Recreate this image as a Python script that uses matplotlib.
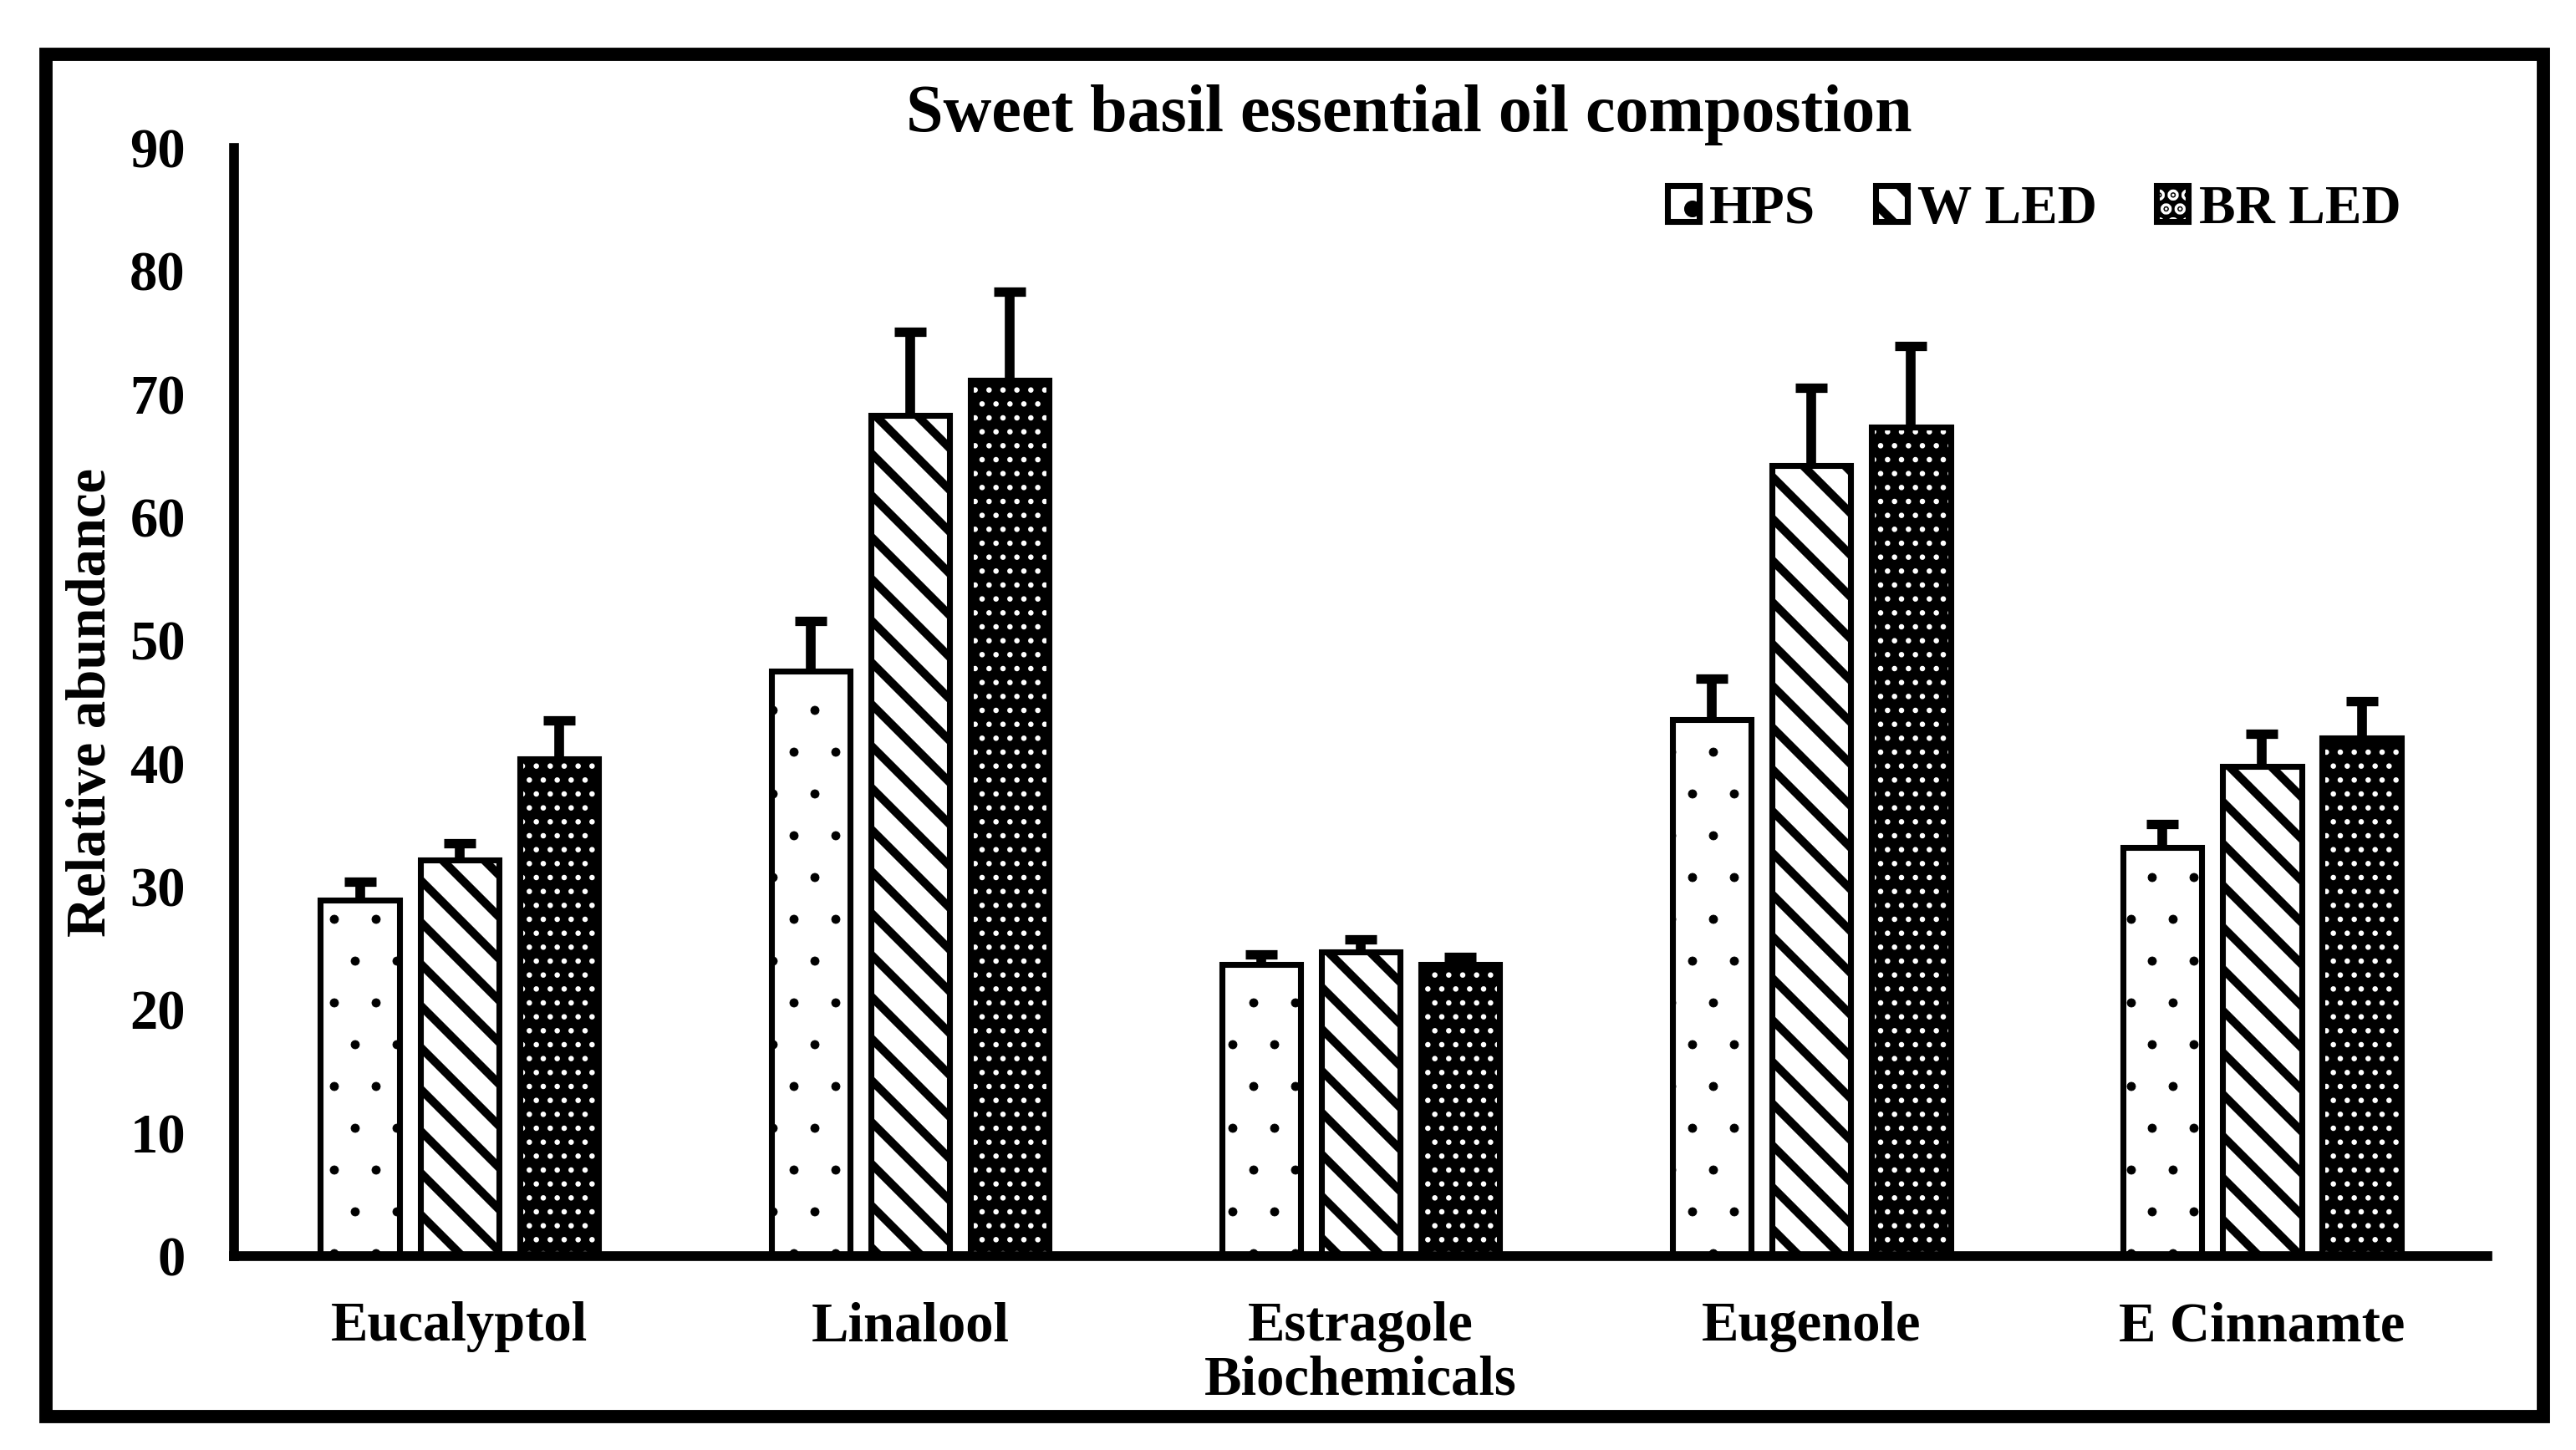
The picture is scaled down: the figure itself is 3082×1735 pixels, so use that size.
import numpy as np
import matplotlib
matplotlib.use('Agg')
import matplotlib.pyplot as plt
from matplotlib.patches import Rectangle

plt.rcParams['font.family'] = ['Liberation Serif', 'DejaVu Serif']
plt.rcParams['font.weight'] = 'bold'
plt.rcParams['hatch.linewidth'] = 2.4

# data
categories = ['Eucalyptol', 'Linalool', 'Estragole', 'Eugenole', 'E Cinnamte']
series_names = ['HPS', 'W LED', 'BR LED']
hps = [28.9, 47.5, 23.7, 43.6, 33.2]
hps_err = [1.5, 4.1, 0.8, 3.3, 1.9]
wled = [32.2, 68.3, 24.7, 64.2, 39.8]
wled_err = [1.3, 6.8, 1.0, 6.3, 2.6]
brled = [40.4, 71.1, 23.7, 67.3, 42.1]
brled_err = [3.1, 7.2, 0.6, 6.6, 3.0]

values = [hps, wled, brled]
errors = [hps_err, wled_err, brled_err]
# face colour, hatch colour, hatch, hatch linewidth
styles = [('white', 'black', '.', 0.2),
          ('white', 'black', '\\\\', 2.4),
          ('black', 'white', '...', 0.75)]

DPI = 300
fig = plt.figure(figsize=(3082 / DPI, 1735 / DPI), dpi=DPI)
ax = fig.add_axes([0.0909, 0.1337, 0.9656 - 0.0909, 0.898 - 0.1337])

x = np.arange(len(categories))
width = 0.175
offsets = [-0.221, 0.0, 0.221]
handles = []
for vals, errs, off, (face, hcol, hatch, hlw) in zip(values, errors, offsets, styles):
    fill = ax.bar(x + off, vals, width, color=face, edgecolor=hcol,
                  hatch=hatch, linewidth=0, zorder=1)
    for p in fill:
        if hasattr(p, 'set_hatch_linewidth'):
            p.set_hatch_linewidth(hlw)
    outline = ax.bar(x + off, vals, width, fill=False, edgecolor='black',
                     linewidth=1.7, zorder=1.5)
    eb = ax.errorbar(x + off, vals, yerr=[np.zeros(len(vals)), errs], fmt='none',
                     ecolor='black', elinewidth=2.8, capsize=4.6, capthick=2.7,
                     zorder=1.2)
    eb[1][0].set_visible(False)
    handles.append((fill[0], outline[0]))

ax.set_ylim(0, 90)
ax.set_xlim(-0.5, 4.5)
ax.set_yticks(np.arange(0, 91, 10))
ax.set_xticks(x)
ax.set_xticklabels(categories)
ax.tick_params(axis='both', length=0, labelsize=16)
ax.tick_params(axis='y', pad=14)
ax.tick_params(axis='x', pad=13)
for s in ['top', 'right']:
    ax.spines[s].set_visible(False)
for s in ['left', 'bottom']:
    ax.spines[s].set_linewidth(2.8)

ax.set_ylabel('Relative abundance', fontsize=16, fontweight='bold')
ax.yaxis.set_label_coords(-0.052, 0.5)
ax.set_xlabel('Biochemicals', fontsize=16, fontweight='bold')
ax.xaxis.set_label_coords(0.5, -0.0895)

fig.text(0.547, 0.9095, 'Sweet basil essential oil compostion', fontsize=19.2,
         fontweight='bold', ha='center', va='baseline')

fig.legend(handles, series_names, loc='center left', bbox_to_anchor=(0.6473, 0.8555),
           ncol=3, frameon=False, fontsize=15.7, handlelength=0.58, handleheight=0.63,
           handletextpad=0.19, columnspacing=1.09, borderpad=0, borderaxespad=0)

fig.add_artist(Rectangle((0.01785, 0.0231), 0.9874 - 0.01785, 0.9625 - 0.0231,
                         transform=fig.transFigure, fill=False, edgecolor='black',
                         linewidth=3.8))

fig.savefig('out.png', dpi=DPI)
